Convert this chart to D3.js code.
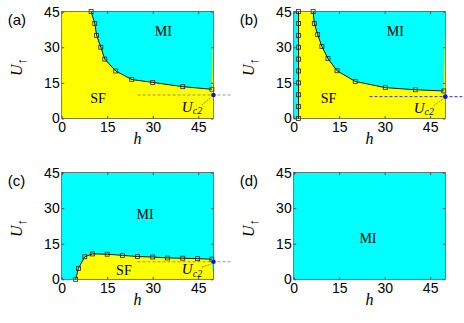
<!DOCTYPE html>
<html>
<head>
  <script src="https://d3js.org/d3.v7.min.js"></script>
  <style>
    body { margin: 0; background: #fff; }
    .tick text { font-family: "Liberation Sans", Arial, sans-serif; font-size: 14px; fill: #000; }
    .serif { font-family: "Liberation Serif", "Times New Roman", serif; }
  </style>
</head>
<body>
  <div id="chart"></div>
  <script>
    // data
    var xTicks = [0, 15, 30, 45];
    var yTicks = [0, 15, 30, 45];
    var hMax = 50, uMax = 45;

    // (a) MI/SF boundary
    var hA = [9.7, 10.9, 11.5, 12.9, 14.2, 17.8, 23.1, 30.0, 39.9, 49.5];
    var uA = [45, 40, 35, 30, 25, 20, 16.4, 15.2, 13.4, 12.3];
    // (b) narrow MI strip at small h, then main boundary
    var hB1 = [1.6, 1.6, 1.6, 1.6, 1.6, 1.6, 1.6, 1.6, 1.6, 1.6];
    var uB1 = [0, 5, 10, 15, 20, 25, 30, 35, 40, 45];
    var hB = [6.4, 6.8, 7.9, 9.3, 11.3, 14.3, 20.3, 30.2, 40.1, 49.5];
    var uB = [45, 40, 35.3, 30.3, 25.2, 20.1, 15.6, 13.0, 12.1, 11.6];
    // (c) SF dome
    var hC = [4.6, 5.5, 7.6, 10.1, 15.0, 20.0, 25.0, 30.0, 34.9, 39.9, 44.8, 49.5];
    var uC = [0, 4.6, 9.5, 10.7, 10.6, 10.1, 9.6, 9.4, 9.0, 8.9, 8.7, 8.5];
    // critical Uc2 at h = 50
    var uc2 = [9.9, 9.2, 7.4];

    var svg = d3.select("#chart").append("svg")
      .attr("width", 464).attr("height", 323);

    var yellow = "#ffff00", cyan = "#00ffff";

    var panels = [
      { tag: "(a)", x0: 61.7, x1: 213.4, y0: 11.6, y1: 118.5, bg: yellow,
        fills: [{ h: hA, u: uA, close: [[50, 45]], color: cyan }],
        lines: [[hA, uA]], uc2: uc2[0], dashAlpha: 0.55, ucOff: 17,
        mi: [33.5, 36.6], sf: [12, 8.4] },
      { tag: "(b)", x0: 293.7, x1: 445.3, y0: 11.6, y1: 118.5, bg: yellow,
        fills: [{ h: hB1, u: uB1, close: [[0, 45], [0, 0]], color: cyan },
                { h: hB, u: uB, close: [[50, 45]], color: cyan }],
        lines: [[hB1, uB1], [hB, uB]], uc2: uc2[1], dashAlpha: 1, ucOff: 16,
        mi: [33.5, 36.6], sf: [11.5, 8.4] },
      { tag: "(c)", x0: 61.7, x1: 213.4, y0: 172.6, y1: 279.3, bg: cyan,
        fills: [{ h: hC, u: uC, close: [[50, 0]], color: yellow }],
        lines: [[hC, uC]], uc2: uc2[2], dashAlpha: 0.55, ucOff: 12.5,
        mi: [27.5, 27.5], sf: [20.5, 4] },
      { tag: "(d)", x0: 293.7, x1: 445.3, y0: 172.6, y1: 279.3, bg: cyan,
        fills: [], lines: [], uc2: null,
        mi: [24.5, 17.5] }
    ];

    panels.forEach(function(p) {
      var x = d3.scaleLinear().domain([0, hMax]).range([p.x0, p.x1]);
      var y = d3.scaleLinear().domain([0, uMax]).range([p.y1, p.y0]);
      var g = svg.append("g");

      g.append("rect")
        .attr("x", p.x0).attr("y", p.y0)
        .attr("width", p.x1 - p.x0).attr("height", p.y1 - p.y0)
        .attr("fill", p.bg);

      p.fills.forEach(function(f) {
        var pts = f.h.map(function(d, i) { return [d, f.u[i]]; }).concat(f.close);
        g.append("path")
          .attr("d", "M" + pts.map(function(d) { return x(d[0]) + "," + y(d[1]); }).join("L") + "Z")
          .attr("fill", f.color);
      });

      var line = d3.line().x(function(d) { return x(d[0]); }).y(function(d) { return y(d[1]); });
      p.lines.forEach(function(l) {
        var pts = l[0].map(function(d, i) { return [d, l[1][i]]; });
        g.append("path").datum(pts)
          .attr("d", line).attr("fill", "none")
          .attr("stroke", "#000").attr("stroke-width", 0.9);
        g.selectAll(null).data(pts).enter().append("rect")
          .attr("x", function(d) { return x(d[0]) - 2; })
          .attr("y", function(d) { return y(d[1]) - 2; })
          .attr("width", 4).attr("height", 4)
          .attr("fill", "none").attr("stroke", "#222").attr("stroke-width", 0.8);
      });

      // axes, matlab style inward ticks
      g.append("g").attr("transform", "translate(0," + p.y1 + ")")
        .call(d3.axisBottom(x).tickValues(xTicks).tickSize(-2.5).tickSizeOuter(0).tickPadding(4))
        .call(function(s) { s.select(".domain").remove(); s.selectAll("line").attr("stroke", "#555"); });
      g.append("g").attr("transform", "translate(" + p.x0 + ",0)")
        .call(d3.axisLeft(y).tickValues(yTicks).tickSize(-2.5).tickSizeOuter(0).tickPadding(2))
        .call(function(s) { s.select(".domain").remove(); s.selectAll("line").attr("stroke", "#555"); });
      g.append("g").attr("transform", "translate(0," + p.y0 + ")")
        .call(d3.axisTop(x).tickValues(xTicks).tickSize(-2.5).tickSizeOuter(0).tickFormat(""))
        .call(function(s) { s.select(".domain").remove(); s.selectAll("line").attr("stroke", "#555"); });
      g.append("g").attr("transform", "translate(" + p.x1 + ",0)")
        .call(d3.axisRight(y).tickValues(yTicks).tickSize(-2.5).tickSizeOuter(0).tickFormat(""))
        .call(function(s) { s.select(".domain").remove(); s.selectAll("line").attr("stroke", "#555"); });

      g.append("rect")
        .attr("x", p.x0).attr("y", p.y0)
        .attr("width", p.x1 - p.x0).attr("height", p.y1 - p.y0)
        .attr("fill", "none").attr("stroke", "#444").attr("stroke-width", 0.7);

      // labels
      g.append("text").attr("class", "serif")
        .attr("x", x(p.mi[0])).attr("y", y(p.mi[1])).attr("dy", "0.35em")
        .attr("text-anchor", "middle").style("font-size", "14px").text("MI");
      if (p.sf) {
        g.append("text").attr("class", "serif")
          .attr("x", x(p.sf[0])).attr("y", y(p.sf[1])).attr("dy", "0.35em")
          .attr("text-anchor", "middle").style("font-size", "14px").text("SF");
      }

      g.append("text").attr("class", "serif")
        .attr("x", (p.x0 + p.x1) / 2).attr("y", p.y1 + 25.5)
        .attr("text-anchor", "middle").style("font-size", "16px").style("font-style", "italic")
        .text("h");

      var yl = g.append("text").attr("class", "serif")
        .attr("transform", "translate(" + (p.x0 - 40) + "," + ((p.y0 + p.y1) / 2 + 2) + ") rotate(-90)")
        .attr("text-anchor", "middle").style("font-size", "16px");
      yl.append("tspan").style("font-style", "italic").text("U");
      yl.append("tspan").attr("dy", "0.3em").style("font-size", "13px").text("\u2191");

      g.append("text")
        .attr("x", p.x0 - 54).attr("y", p.y0 + 13)
        .style("font-family", "Liberation Sans, Arial, sans-serif").style("font-size", "15px")
        .text(p.tag);

      if (p.uc2 != null) {
        var dx = x(hMax), dy = y(p.uc2);
        g.append("line")
          .attr("x1", x(25)).attr("x2", p.x1 + 17)
          .attr("y1", dy).attr("y2", dy)
          .attr("stroke", "#3030ff").attr("stroke-opacity", p.dashAlpha)
          .attr("stroke-width", 1).attr("stroke-dasharray", "3,2");
        g.append("circle").attr("cx", dx).attr("cy", dy).attr("r", 2.3).attr("fill", "#1010ff");
        var tx = x(39.6), ty = dy + p.ucOff;
        var t = g.append("text").attr("class", "serif")
          .attr("x", tx).attr("y", ty).style("font-size", "15px");
        t.append("tspan").style("font-style", "italic").text("U");
        t.append("tspan").attr("dy", "0.25em").style("font-size", "10px").style("font-style", "italic").text("c2");
        g.append("line")
          .attr("x1", tx + 20).attr("y1", ty - 7)
          .attr("x2", dx - 2.5).attr("y2", dy + 2.5)
          .attr("stroke", "#333").attr("stroke-width", 0.6).attr("stroke-dasharray", "2,1");
      }
    });
  </script>
</body>
</html>
